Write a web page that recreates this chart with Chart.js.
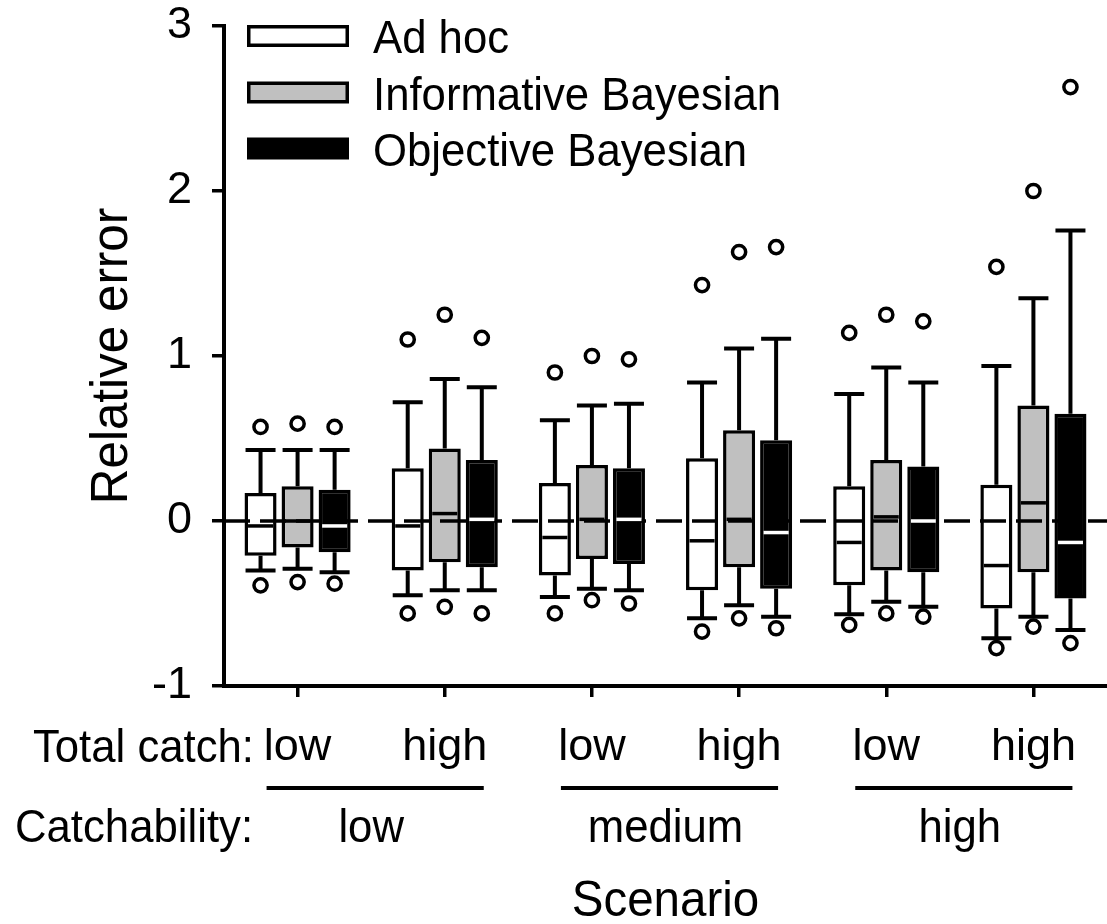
<!DOCTYPE html>
<html>
<head>
<meta charset="utf-8">
<script src="https://cdn.jsdelivr.net/npm/chart.js@4.4.1/dist/chart.umd.min.js"></script>
<style>
  html, body { margin: 0; padding: 0; background: #fff; }
  #wrap { width: 1107px; height: 924px; }
</style>
</head>
<body>
<div id="wrap"><canvas id="c" width="1107" height="924"></canvas></div>
<script>
// ---------------- data ----------------
const totalCatch = ['low', 'high', 'low', 'high', 'low', 'high'];
const catchability = ['low', 'medium', 'high'];
const seriesNames = ['Ad hoc', 'Informative Bayesian', 'Objective Bayesian'];
const yTickValues = [-1, 0, 1, 2, 3];
const yTickLabels = ['-1', '0', '1', '2', '3'];

// Ad hoc
const adhocQ1     = [-0.21, -0.30, -0.33, -0.42, -0.39, -0.53];
const adhocMedian = [-0.03, -0.03, -0.10, -0.12, -0.13, -0.27];
const adhocQ3     = [0.17, 0.32, 0.23, 0.38, 0.21, 0.22];
const adhocWhLo   = [-0.30, -0.45, -0.46, -0.59, -0.565, -0.71];
const adhocWhHi   = [0.43, 0.72, 0.61, 0.84, 0.77, 0.94];
const adhocOutLo  = [-0.39, -0.56, -0.56, -0.67, -0.63, -0.77];
const adhocOutHi  = [0.57, 1.10, 0.90, 1.43, 1.14, 1.54];

// Informative Bayesian
const infoQ1     = [-0.16, -0.25, -0.23, -0.28, -0.30, -0.31];
const infoMedian = [0.00, 0.045, 0.01, 0.01, 0.025, 0.11];
const infoQ3     = [0.21, 0.44, 0.34, 0.55, 0.37, 0.70];
const infoWhLo   = [-0.29, -0.42, -0.41, -0.51, -0.49, -0.58];
const infoWhHi   = [0.43, 0.86, 0.70, 1.045, 0.93, 1.35];
const infoOutLo  = [-0.37, -0.52, -0.48, -0.59, -0.56, -0.64];
const infoOutHi  = [0.59, 1.25, 1.00, 1.63, 1.25, 2.00];

// Objective Bayesian
const objQ1     = [-0.19, -0.28, -0.26, -0.41, -0.31, -0.47];
const objMedian = [-0.03, 0.01, 0.01, -0.07, 0.00, -0.13];
const objQ3     = [0.19, 0.37, 0.32, 0.49, 0.33, 0.65];
const objWhLo   = [-0.31, -0.42, -0.42, -0.58, -0.52, -0.66];
const objWhHi   = [0.43, 0.81, 0.71, 1.105, 0.84, 1.76];
const objOutLo  = [-0.38, -0.56, -0.50, -0.65, -0.58, -0.74];
const objOutHi  = [0.57, 1.11, 0.98, 1.66, 1.21, 2.63];

// ---------------- styles ----------------
const fills = ['#ffffff', '#c0c0c0', '#000000'];
const medianColors = ['#000000', '#000000', '#ffffff'];
const FONT = '"Liberation Sans", Arial, Helvetica, sans-serif';

const stats = [
  {q1: adhocQ1, med: adhocMedian, q3: adhocQ3, lo: adhocWhLo, hi: adhocWhHi, oLo: adhocOutLo, oHi: adhocOutHi},
  {q1: infoQ1, med: infoMedian, q3: infoQ3, lo: infoWhLo, hi: infoWhHi, oLo: infoOutLo, oHi: infoOutHi},
  {q1: objQ1, med: objMedian, q3: objQ3, lo: objWhLo, hi: objWhHi, oLo: objOutLo, oHi: objOutHi}
];

// text drawn slightly condensed, like the reference's typeface
function narrowText(ctx, text, x, y, size, align) {
  const sx = 0.95;
  ctx.save();
  ctx.font = size + 'px ' + FONT;
  ctx.textAlign = align;
  ctx.textBaseline = 'alphabetic';
  ctx.translate(x, y);
  ctx.scale(sx, 1);
  ctx.fillText(text, 0, 0);
  ctx.restore();
}

const boxPlugin = {
  id: 'boxExtras',
  beforeDatasetsDraw(chart) {
    const ctx = chart.ctx, ys = chart.scales.y;
    ctx.save();
    ctx.strokeStyle = '#000';
    stats.forEach((st, s) => {
      const meta = chart.getDatasetMeta(s);
      meta.data.forEach((bar, i) => {
        const x = bar.x;
        // whiskers
        ctx.lineWidth = 4;
        ctx.beginPath();
        ctx.moveTo(x, ys.getPixelForValue(st.q3[i]));
        ctx.lineTo(x, ys.getPixelForValue(st.hi[i]));
        ctx.moveTo(x, ys.getPixelForValue(st.q1[i]));
        ctx.lineTo(x, ys.getPixelForValue(st.lo[i]));
        ctx.stroke();
        // caps
        ctx.lineWidth = 4;
        ctx.beginPath();
        [st.hi[i], st.lo[i]].forEach(v => {
          const y = ys.getPixelForValue(v);
          ctx.moveTo(x - 15, y);
          ctx.lineTo(x + 15, y);
        });
        ctx.stroke();
        // outliers
        ctx.lineWidth = 3.5;
        [st.oHi[i], st.oLo[i]].forEach(v => {
          ctx.beginPath();
          ctx.arc(x, ys.getPixelForValue(v), 6.6, 0, Math.PI * 2);
          ctx.fillStyle = '#fff';
          ctx.fill();
          ctx.stroke();
        });
      });
    });
    ctx.restore();
  },
  afterDatasetsDraw(chart) {
    const ctx = chart.ctx, ys = chart.scales.y, area = chart.chartArea;
    ctx.save();
    // dashed zero line
    ctx.strokeStyle = '#000';
    ctx.lineWidth = 3.5;
    ctx.setLineDash([26, 10]);
    ctx.beginPath();
    const y0 = ys.getPixelForValue(0);
    ctx.moveTo(area.left, y0);
    ctx.lineTo(area.right, y0);
    ctx.stroke();
    ctx.setLineDash([]);
    // medians
    stats.forEach((st, s) => {
      const meta = chart.getDatasetMeta(s);
      ctx.strokeStyle = medianColors[s];
      ctx.lineWidth = 3.5;
      meta.data.forEach((bar, i) => {
        const y = ys.getPixelForValue(st.med[i]);
        const hw = bar.width / 2 - 3.5;
        ctx.beginPath();
        ctx.moveTo(bar.x - hw, y);
        ctx.lineTo(bar.x + hw, y);
        ctx.stroke();
      });
    });
    ctx.restore();
  },
  afterDraw(chart) {
    const ctx = chart.ctx, xs = chart.scales.x, area = chart.chartArea;
    ctx.save();
    // legend
    const lx = 247, lw = 102, lh = 22;
    const centers = [36, 92.5, 148.5];
    chart.data.datasets.forEach((ds, s) => {
      const cy = centers[s];
      ctx.fillStyle = '#000';
      ctx.fillRect(lx, cy - lh / 2, lw, lh);
      ctx.fillStyle = ds.backgroundColor;
      ctx.fillRect(lx + 3.5, cy - lh / 2 + 3.5, lw - 7, lh - 7);
      ctx.fillStyle = '#000';
      narrowText(ctx, ds.label, 373, cy + 17, 46, 'left');
    });
    // row labels
    ctx.fillStyle = '#000';
    narrowText(ctx, 'Total catch:', 254, 762, 46, 'right');
    narrowText(ctx, 'Catchability:', 15, 842, 46, 'left');
    // catchability groups
    catchability.forEach((lab, g) => {
      const x1 = xs.getPixelForValue(2 * g);
      const x2 = xs.getPixelForValue(2 * g + 1);
      ctx.fillRect(x1 - 31, 786, (x2 + 39) - (x1 - 31), 4);
      narrowText(ctx, lab, (x1 + x2) / 2, 842, 46, 'center');
    });
    // axis titles
    narrowText(ctx, 'Scenario', (area.left + area.right) / 2, 916, 50, 'center');
    ctx.translate(127, (area.top + area.bottom) / 2);
    ctx.rotate(-Math.PI / 2);
    narrowText(ctx, 'Relative error', 0, 0, 52, 'center');
    ctx.restore();
  }
};

new Chart(document.getElementById('c'), {
  type: 'bar',
  data: {
    labels: totalCatch,
    datasets: seriesNames.map((name, s) => ({
      label: name,
      data: stats[s].q1.map((v, i) => [v, stats[s].q3[i]]),
      backgroundColor: fills[s],
      borderColor: '#000',
      borderWidth: 3.5,
      borderSkipped: false,
      barPercentage: 0.865,
      categoryPercentage: 0.755
    }))
  },
  options: {
    responsive: false,
    animation: false,
    devicePixelRatio: 1,
    layout: { padding: { top: 0, right: 0, bottom: 0, left: 0 } },
    plugins: { legend: { display: false }, tooltip: { enabled: false } },
    scales: {
      x: {
        offset: true,
        grid: { display: true, drawOnChartArea: false, drawTicks: true, tickLength: 11, color: '#000', lineWidth: 3.5, offset: false },
        border: { display: true, color: '#000', width: 4 },
        ticks: { color: '#000', font: { size: 45, family: FONT }, padding: 24, maxRotation: 0, autoSkip: false },
        afterFit(scale) { scale.height = 238; scale.paddingLeft = 0; scale.paddingRight = 0; }
      },
      y: {
        min: -1, max: 3,
        grid: { display: true, drawOnChartArea: false, drawTicks: true, tickLength: 12, color: '#000', lineWidth: 3.5 },
        border: { display: true, color: '#000', width: 4 },
        ticks: {
          stepSize: 1, color: '#000', font: { size: 45, family: FONT }, padding: 20,
          callback: (v) => { const k = yTickValues.indexOf(v); return k >= 0 ? yTickLabels[k] : ''; }
        },
        afterFit(scale) { scale.width = 224; scale.paddingTop = 26; scale.paddingBottom = 0; }
      }
    }
  },
  plugins: [boxPlugin]
});
</script>
</body>
</html>
